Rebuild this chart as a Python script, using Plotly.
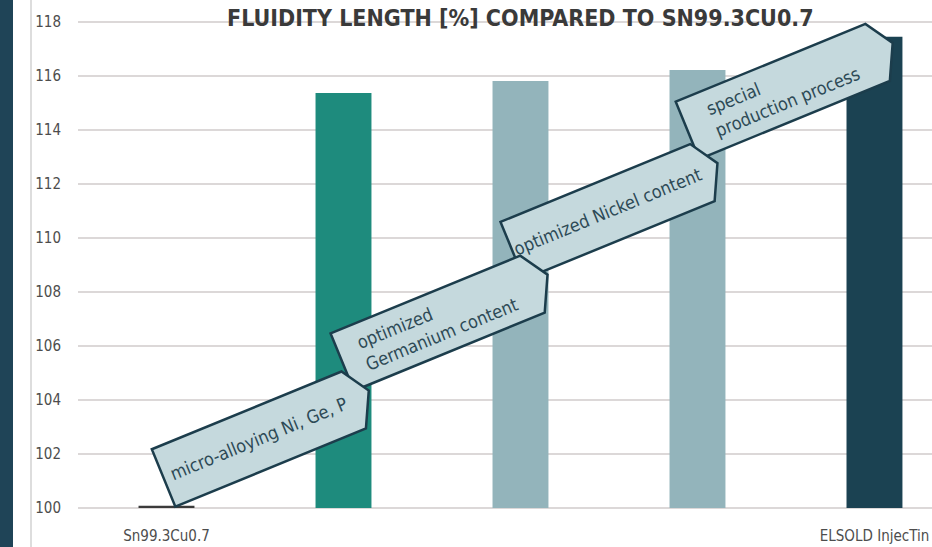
import math
import plotly.graph_objects as go

# ---------------- data ----------------
CATEGORIES = ["Sn99.3Cu0.7", "", "", "", "ELSOLD InjecTin"]
VALUES = [100.08, 115.37, 115.81, 116.22, 117.45]
BAR_COLORS = ["#3b3b3b", "#1e8b7d", "#93b4bb", "#93b4bb", "#1b4252"]
BASE = 100
Y_TICKS = list(range(100, 119, 2))
TITLE = "FLUIDITY LENGTH [%] COMPARED TO SN99.3CU0.7"

STEP_LABELS = ["micro-alloying Ni, Ge, P",
               "optimized<br>Germanium content",
               "optimized Nickel content",
               "special<br>production process"]
STEP_ALIGN = ["center", "left", "center", "left"]
# lower-left corner of each step arrow (data coordinates)
STEP_X = [0.05, 1.06, 2.02, 3.01]
STEP_Y = [100.05, 104.34, 108.47, 112.92]

# ---------------- layout constants ----------------
FIG_W, FIG_H = 932, 547
ML, MR, MT, MB = 78, 0, 10, 32
XR = [-0.5, 4.325]
YR = [99.74, 118.44]
PW = FIG_W - ML - MR
PH = FIG_H - MT - MB

FONT = "Liberation Sans Narrow, DejaVu Sans Condensed, Roboto, sans-serif"
ARROW_FILL = "#c5d9dd"
ARROW_LINE = "#1c3d4c"
ARROW_TEXT = "#2d4a56"


def px_x(x):
    return ML + (x - XR[0]) / (XR[1] - XR[0]) * PW


def px_y(y):
    return MT + (YR[1] - y) / (YR[1] - YR[0]) * PH


def dx(p):
    return XR[0] + (p - ML) / PW * (XR[1] - XR[0])


def dy(p):
    return YR[1] - (p - MT) / PH * (YR[1] - YR[0])


x_idx = list(range(len(CATEGORIES)))

fig = go.Figure()
fig.add_trace(go.Bar(
    x=x_idx,
    y=[v - BASE for v in VALUES],
    base=BASE,
    width=0.316,
    marker=dict(color=BAR_COLORS, line=dict(width=0)),
    hoverinfo="skip",
))

# arrow geometry (pixels, in the arrow's own rotated frame)
ANG = math.radians(22.3)
U = (math.cos(ANG), -math.sin(ANG))
V = (math.sin(ANG), math.cos(ANG))
THICK = 62
LOCAL = [(0, 0), (205, 0), (223, 28), (206, THICK), (0, THICK)]

shapes = []
annotations = []
for i in reversed(range(len(STEP_LABELS))):
    blx, bly = px_x(STEP_X[i]), px_y(STEP_Y[i])
    tlx, tly = blx - THICK * V[0], bly - THICK * V[1]
    pts = []
    for (a, b) in LOCAL:
        px = tlx + a * U[0] + b * V[0]
        py = tly + a * U[1] + b * V[1]
        pts.append((dx(px), dy(py)))
    path = "M " + " L ".join(f"{x:.5f},{y:.5f}" for x, y in pts) + " Z"
    shapes.append(dict(type="path", path=path, xref="x", yref="y",
                       fillcolor=ARROW_FILL,
                       line=dict(color=ARROW_LINE, width=2.5), layer="above"))
    cx = tlx + 103 * U[0] + 31 * V[0]
    cy = tly + 103 * U[1] + 31 * V[1]
    annotations.append(dict(x=dx(cx), y=dy(cy), xref="x", yref="y",
                            text=STEP_LABELS[i], showarrow=False,
                            textangle=-22.3, align=STEP_ALIGN[i],
                            xanchor="center", yanchor="middle",
                            font=dict(family=FONT, size=18, color=ARROW_TEXT)))

# left dark band and thin page border line
shapes.insert(0, dict(type="rect", xref="paper", yref="paper",
                      x0=(0 - ML) / PW, x1=(13 - ML) / PW,
                      y0=(MT + PH - FIG_H) / PH, y1=(MT + PH) / PH,
                      fillcolor="#1f4457", line=dict(width=0), layer="below"))
shapes.insert(1, dict(type="line", xref="paper", yref="paper",
                      x0=(31 - ML) / PW, x1=(31 - ML) / PW,
                      y0=(MT + PH - FIG_H) / PH, y1=(MT + PH) / PH,
                      line=dict(color="#d2d2d2", width=1.5), layer="below"))

# title, kept fully inside the page
annotations.append(dict(x=2.0, xref="x", y=(MT + PH - 32) / PH, yref="paper",
                        yanchor="bottom", xanchor="center", showarrow=False,
                        text=TITLE, borderpad=0,
                        font=dict(family=FONT, size=23, color="#3a3a3a", weight=700)))

fig.update_layout(
    width=FIG_W, height=FIG_H,
    margin=dict(l=ML, r=MR, t=MT, b=MB, pad=0),
    paper_bgcolor="white", plot_bgcolor="white",
    showlegend=False,
    shapes=shapes,
    annotations=annotations,
    xaxis=dict(range=XR, tickvals=x_idx, ticktext=CATEGORIES,
               showgrid=False, zeroline=False, showline=False,
               ticks="", ticklabelstandoff=10,
               tickfont=dict(family=FONT, size=15, color="#4d4d4d")),
    yaxis=dict(range=YR, tickvals=Y_TICKS, showgrid=True,
               gridcolor="#dcd8d8", gridwidth=1.5, zeroline=False,
               showline=False, ticks="", ticklabelstandoff=16,
               tickfont=dict(family=FONT, size=15, color="#4d4d4d")),
)

fig.write_html("out.html")
